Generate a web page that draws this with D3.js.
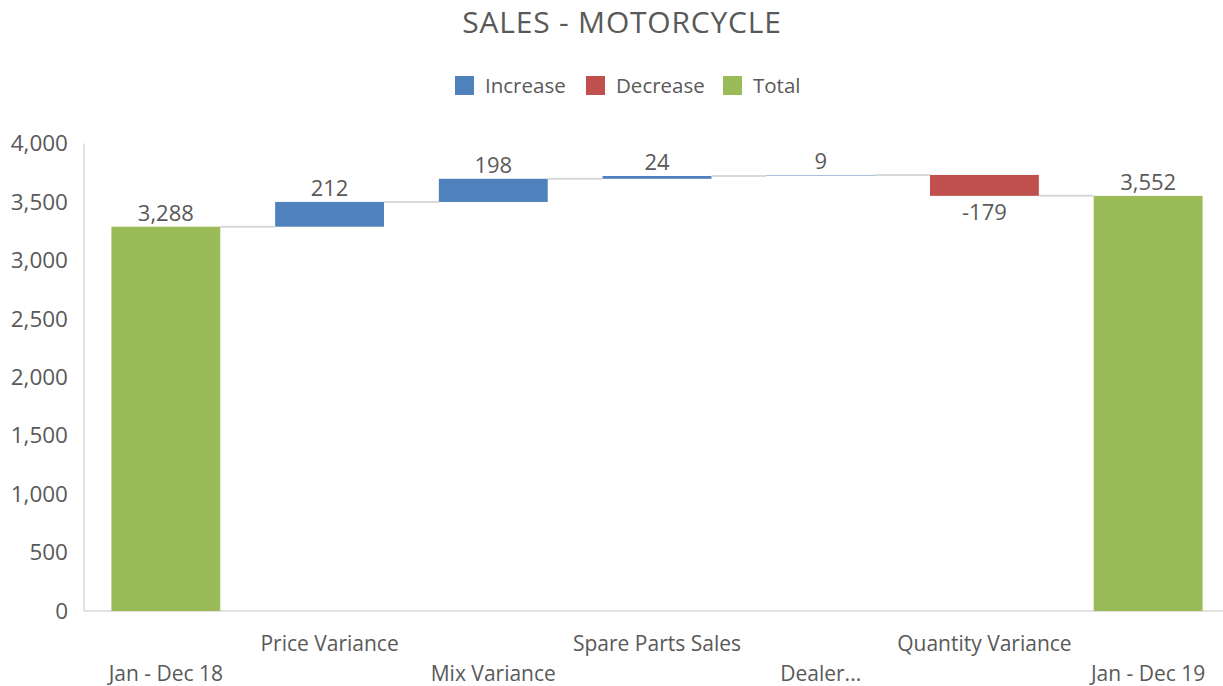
<!DOCTYPE html>
<html>
<head>
<meta charset="utf-8">
<script src="https://cdn.jsdelivr.net/npm/d3@7"></script>
<style>
  body { margin: 0; background: #fff; }
  svg text { font-family: "Open Sans", "Noto Sans", sans-serif; fill: #595959; }
</style>
</head>
<body>
<div id="chart"></div>
<script>
// waterfall data
const categories = ['Jan - Dec 18', 'Price Variance', 'Mix Variance', 'Spare Parts Sales', 'Dealer...', 'Quantity Variance', 'Jan - Dec 19'];
const values = [3288, 212, 198, 24, 9, -179, 3552];
const isTotal = [true, false, false, false, false, false, true];
const yTicks = [0, 500, 1000, 1500, 2000, 2500, 3000, 3500, 4000];
const legendItems = ['Increase', 'Decrease', 'Total'];

const colors = { Increase: '#4f81bd', Decrease: '#c0504d', Total: '#9bbb59' };

const W = 1223, H = 686;
const margin = { top: 143.5, right: -7, bottom: 75, left: 84 };

// excel style: plain hyphen for negatives
const fmt = v => d3.format(',')(v).replace('\u2212', '-');

const svg = d3.select('#chart').append('svg')
  .attr('width', W).attr('height', H);

// build steps
let run = 0;
const steps = values.map((v, i) => {
  let start, end, kind;
  if (isTotal[i]) { start = 0; end = v; run = v; kind = 'Total'; }
  else { start = run; end = run + v; run = end; kind = v >= 0 ? 'Increase' : 'Decrease'; }
  return { cat: categories[i], value: v, start, end, kind, i };
});

const x = d3.scaleBand()
  .domain(categories)
  .range([margin.left, W - margin.right])
  .paddingInner(0.335).paddingOuter(0.1675);

const y = d3.scaleLinear()
  .domain([0, 4000])
  .range([H - margin.bottom, margin.top]);

// axes lines
svg.append('line')
  .attr('x1', margin.left).attr('x2', margin.left)
  .attr('y1', y(4000)).attr('y2', y(0))
  .attr('stroke', '#d9d9d9').attr('stroke-width', 1.5);
svg.append('line')
  .attr('x1', margin.left).attr('x2', W)
  .attr('y1', y(0)).attr('y2', y(0))
  .attr('stroke', '#d9d9d9').attr('stroke-width', 1.5);

// y tick labels
const yAxis = svg.append('g')
  .attr('transform', `translate(${margin.left},0)`)
  .call(d3.axisLeft(y).tickValues(yTicks).tickFormat(fmt).tickSize(0).tickPadding(16));
yAxis.select('.domain').remove();
yAxis.selectAll('text')
  .style('font-size', '22.5px')
  .style('fill', '#595959')
  .style('font-family', '"Open Sans", sans-serif');

// connectors
svg.selectAll('.conn')
  .data(steps.slice(0, -1))
  .join('line')
  .attr('class', 'conn')
  .attr('x1', d => x(d.cat) + x.bandwidth())
  .attr('x2', d => x(categories[d.i + 1]))
  .attr('y1', d => y(d.end))
  .attr('y2', d => y(d.end))
  .attr('stroke', '#d9d9d9').attr('stroke-width', 2);

// bars
svg.selectAll('.bar')
  .data(steps)
  .join('rect')
  .attr('class', 'bar')
  .attr('x', d => x(d.cat))
  .attr('width', x.bandwidth())
  .attr('y', d => y(Math.max(d.start, d.end)))
  .attr('height', d => Math.max(1, Math.abs(y(d.start) - y(d.end))))
  .attr('fill', d => colors[d.kind])
  .attr('opacity', d => Math.abs(y(d.start) - y(d.end)) < 2 ? 0.5 : 1);

// value labels
svg.selectAll('.val')
  .data(steps)
  .join('text')
  .attr('class', 'val')
  .attr('x', d => x(d.cat) + x.bandwidth() / 2)
  .attr('y', d => d.value < 0 ? y(Math.min(d.start, d.end)) + 24 : y(Math.max(d.start, d.end)) - 6)
  .attr('text-anchor', 'middle')
  .style('font-size', '22px')
  .text(d => fmt(d.value));

// category labels, staggered
svg.selectAll('.cat')
  .data(steps)
  .join('text')
  .attr('class', 'cat')
  .attr('x', d => x(d.cat) + x.bandwidth() / 2)
  .attr('y', d => d.i % 2 === 0 ? 681 : 651)
  .attr('text-anchor', 'middle')
  .style('font-size', '21px')
  .text(d => d.cat);

// title
svg.append('text')
  .attr('x', 622).attr('y', 33)
  .attr('text-anchor', 'middle')
  .style('font-size', '30px')
  .style('letter-spacing', '0.8px')
  .text('SALES - MOTORCYCLE');

// legend
const legendX = [455, 586, 723];
const legend = svg.append('g');
legendItems.forEach((k, i) => {
  const g = legend.append('g').attr('transform', `translate(${legendX[i]},76)`);
  g.append('rect').attr('width', 19).attr('height', 19).attr('fill', colors[k]);
  g.append('text').attr('x', 30).attr('y', 17)
    .style('font-size', '20.5px').text(k);
});
</script>
</body>
</html>
